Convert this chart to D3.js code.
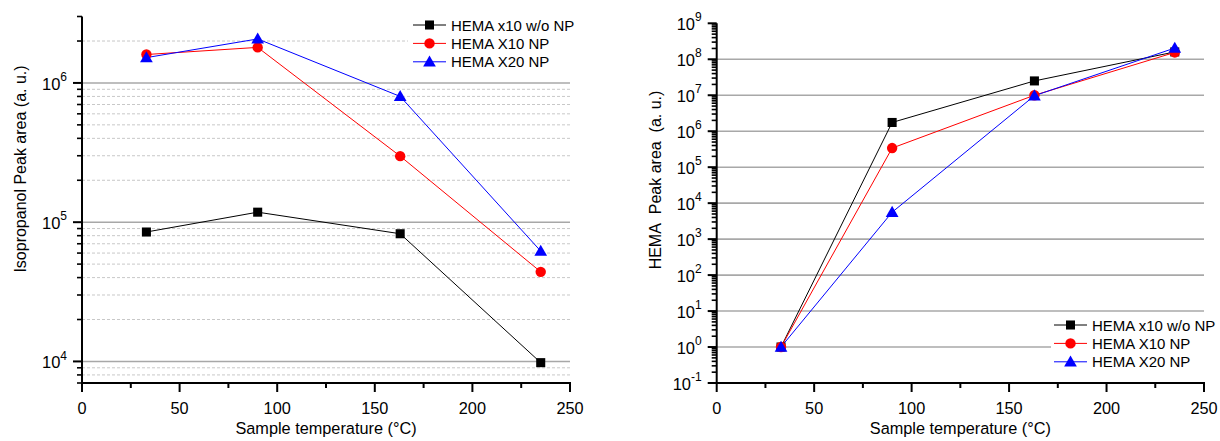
<!DOCTYPE html>
<html>
<head>
<meta charset="utf-8">
<script src="https://cdn.jsdelivr.net/npm/d3@7"></script>
<style>
  html, body { margin: 0; padding: 0; background: #fff; }
  svg { display: block; font-family: Arial, "Liberation Sans", sans-serif; }
</style>
</head>
<body>
<svg id="chart" width="1220" height="441"></svg>
<script>
// ---------------- Data ----------------
const temps = [33, 90, 163, 235];
const seriesNames = ["HEMA x10 w/o NP", "HEMA X10 NP", "HEMA X20 NP"];
const seriesColors = ["#000000", "#ff0000", "#0000ff"];
const seriesSymbols = ["square", "circle", "triangle"];

// Left panel: Isopropanol peak area
const isoNoNP = [85000, 118000, 82600, 9800];
const isoX10 = [1600000, 1800000, 298000, 44000];
const isoX20 = [1520000, 2070000, 800000, 62000];

// Right panel: HEMA peak area
const hemaNoNP = [1.0, 1750000, 25000000, 160000000];
const hemaX10 = [1.0, 340000, 10000000, 155000000];
const hemaX20 = [1.0, 5600, 9700000, 205000000];

const xTicks = [0, 50, 100, 150, 200, 250];
const xMinorTicks = [25, 75, 125, 175, 225];
const leftYExps = [4, 5, 6];
const rightYExps = [-1, 0, 1, 2, 3, 4, 5, 6, 7, 8, 9];

const xTitle = "Sample temperature (\u00B0C)";
const leftYTitle = "Isopropanol Peak area (a. u.)";
const rightYTitle = "HEMA\u00A0 Peak area\u00A0 (a. u.)";

// ---------------- Drawing ----------------
const svg = d3.select("#chart");

function symbolPath(type, size) {
  const map = { square: d3.symbolSquare, circle: d3.symbolCircle, triangle: d3.symbolTriangle };
  return d3.symbol().type(map[type]).size(size)();
}
const symSizes = { square: 82, circle: 85, triangle: 70 };

function drawPanel(cfg) {
  const g = svg.append("g");
  const x = d3.scaleLinear().domain([0, 250]).range([cfg.x0, cfg.x1]);
  const y = d3.scaleLog().domain(cfg.yDomain).range([cfg.yBottom, cfg.yTop]);
  const [ymin, ymax] = cfg.yDomain;

  // minor values
  const minors = [];
  for (let e = Math.floor(Math.log10(ymin)) - 1; e <= Math.ceil(Math.log10(ymax)); e++) {
    for (let m = 2; m <= 9; m++) {
      const v = m * Math.pow(10, e);
      if (v >= ymin * 0.9999 && v <= ymax * 1.0001) minors.push(v);
    }
  }
  const majors = cfg.yExps.map(e => Math.pow(10, e));

  // grid
  if (cfg.minorGrid) {
    g.append("g").selectAll("line")
      .data(minors.filter(v => v > ymin * 1.0001 && v < ymax * 0.9999))
      .join("line")
      .attr("x1", cfg.x0).attr("x2", cfg.x1)
      .attr("y1", d => y(d)).attr("y2", d => y(d))
      .attr("stroke", "#c8c8c8").attr("stroke-width", 1)
      .attr("stroke-dasharray", "3,2");
  }
  g.append("g").selectAll("line")
    .data(majors.filter(v => cfg.gridMajor.includes(Math.round(Math.log10(v)))))
    .join("line")
    .attr("x1", cfg.x0).attr("x2", cfg.x1)
    .attr("y1", d => y(d)).attr("y2", d => y(d))
    .attr("stroke", "#a8a8a8").attr("stroke-width", 1.6);

  // legend background
  g.append("rect")
    .attr("x", cfg.legend.bx).attr("y", cfg.legend.by)
    .attr("width", cfg.legend.bw).attr("height", cfg.legend.bh)
    .attr("fill", "#fff");

  // series
  cfg.series.forEach((vals, i) => {
    const pts = temps.map((t, j) => [x(t), y(vals[j])]);
    g.append("path")
      .attr("d", d3.line()(pts))
      .attr("fill", "none")
      .attr("stroke", seriesColors[i])
      .attr("stroke-width", 1);
  });
  cfg.series.forEach((vals, i) => {
    const sym = seriesSymbols[i];
    g.append("g").selectAll("path")
      .data(temps.map((t, j) => [t, vals[j]]))
      .join("path")
      .attr("d", symbolPath(sym, symSizes[sym]))
      .attr("transform", d => `translate(${x(d[0])},${y(d[1]) + (sym === "triangle" ? 1 : 0)})`)
      .attr("fill", seriesColors[i]);
  });

  // legend
  cfg.series.forEach((vals, i) => {
    const ly = cfg.legend.y0 + i * cfg.legend.dy;
    const lx = cfg.legend.x0;
    g.append("line")
      .attr("x1", lx).attr("x2", lx + 33)
      .attr("y1", ly).attr("y2", ly)
      .attr("stroke", seriesColors[i]).attr("stroke-width", 1);
    const sym = seriesSymbols[i];
    g.append("path")
      .attr("d", symbolPath(sym, symSizes[sym]))
      .attr("transform", `translate(${lx + 16.5},${ly + (sym === "triangle" ? 1 : 0)})`)
      .attr("fill", seriesColors[i]);
    g.append("text")
      .attr("x", lx + 38).attr("y", ly + 5.5)
      .attr("font-size", 15)
      .attr("fill", "#000")
      .text(seriesNames[i]);
  });

  // axes: x
  const ax = g.append("g");
  ax.append("line").attr("x1", cfg.x0 - 1).attr("x2", cfg.x1 + 1)
    .attr("y1", cfg.yBottom).attr("y2", cfg.yBottom)
    .attr("stroke", "#000").attr("stroke-width", 2);
  ax.selectAll(".xmaj").data(xTicks).join("line")
    .attr("x1", d => x(d)).attr("x2", d => x(d))
    .attr("y1", cfg.yBottom).attr("y2", cfg.yBottom + 9)
    .attr("stroke", "#000").attr("stroke-width", 2);
  ax.selectAll(".xmin").data(xMinorTicks).join("line")
    .attr("x1", d => x(d)).attr("x2", d => x(d))
    .attr("y1", cfg.yBottom).attr("y2", cfg.yBottom + 5)
    .attr("stroke", "#000").attr("stroke-width", 2);
  ax.selectAll("text").data(xTicks).join("text")
    .attr("x", d => x(d)).attr("y", cfg.yBottom + 30.5)
    .attr("text-anchor", "middle").attr("font-size", 16.3)
    .text(d => d);
  g.append("text")
    .attr("x", (cfg.x0 + cfg.x1) / 2).attr("y", 434)
    .attr("text-anchor", "middle").attr("font-size", 16.3)
    .text(xTitle);

  // axes: y
  const ay = g.append("g");
  ay.append("line").attr("x1", cfg.x0).attr("x2", cfg.x0)
    .attr("y1", cfg.yTop).attr("y2", cfg.yBottom + 1)
    .attr("stroke", "#000").attr("stroke-width", 2);
  ay.selectAll(".ymin").data(minors).join("line")
    .attr("x1", cfg.x0 - 5).attr("x2", cfg.x0)
    .attr("y1", d => y(d)).attr("y2", d => y(d))
    .attr("stroke", "#000").attr("stroke-width", 1.6);
  ay.selectAll(".ymaj").data(majors).join("line")
    .attr("x1", cfg.x0 - 9).attr("x2", cfg.x0)
    .attr("y1", d => y(d)).attr("y2", d => y(d))
    .attr("stroke", "#000").attr("stroke-width", 2);
  const lab = ay.selectAll(".ylab").data(cfg.yExps).join("text")
    .attr("x", cfg.x0 - 15).attr("y", d => y(Math.pow(10, d)) + 6.6)
    .attr("text-anchor", "end").attr("font-size", 16.5);
  lab.append("tspan").text("10");
  lab.append("tspan").attr("dy", -8.5).attr("font-size", 12).text(d => String(d).replace("-", "-"));

  g.append("text")
    .attr("transform", `translate(${cfg.x0 - 56},${cfg.titleY}) rotate(-90)`)
    .attr("text-anchor", "middle").attr("font-size", 16)
    .text(cfg.yTitle);
}

drawPanel({
  x0: 82, x1: 570, yTop: 16.5, yBottom: 383,
  yDomain: [7000, 3000000], yExps: leftYExps,
  gridMajor: [4, 5, 6], minorGrid: true,
  series: [isoNoNP, isoX10, isoX20],
  yTitle: leftYTitle, titleY: 169,
  legend: { bx: 408, by: 14, bw: 163, bh: 58, x0: 413, y0: 25, dy: 18.4 }
});

drawPanel({
  x0: 716.7, x1: 1204, yTop: 23.3, yBottom: 383,
  yDomain: [0.1, 1e9], yExps: rightYExps,
  gridMajor: [0, 1, 2, 3, 4, 5, 6, 7, 8], minorGrid: false,
  series: [hemaNoNP, hemaX10, hemaX20],
  yTitle: rightYTitle, titleY: 180,
  legend: { bx: 1051, by: 316, bw: 153, bh: 56, x0: 1054, y0: 325, dy: 18.4 }
});
</script>
</body>
</html>
